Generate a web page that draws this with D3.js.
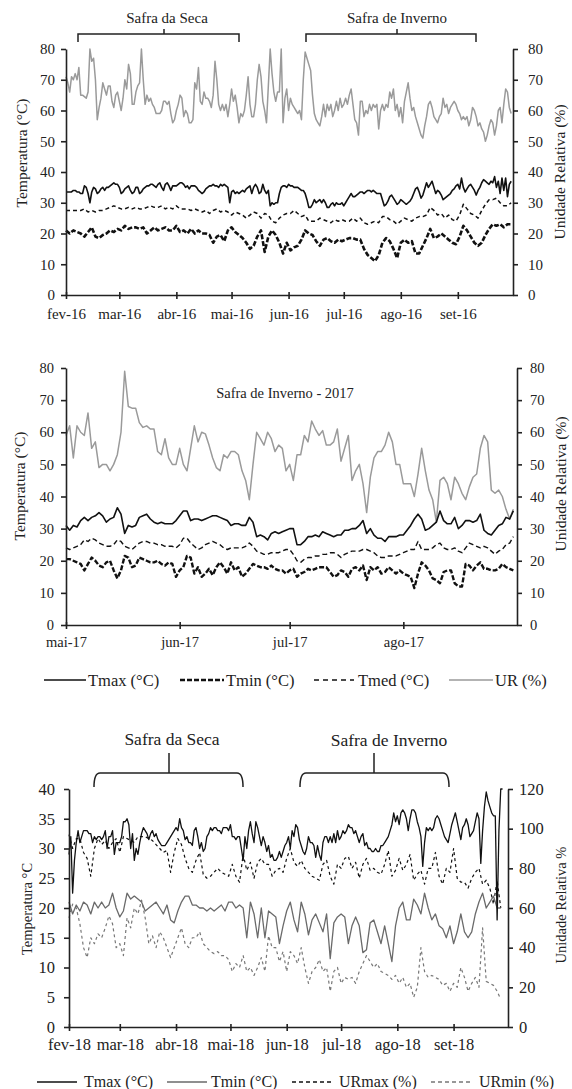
<!DOCTYPE html>
<html><head><meta charset="utf-8">
<script src="https://cdn.jsdelivr.net/npm/d3@7"></script>
<style>body{margin:0;background:#fff;}</style>
</head><body>
<svg id="chart" width="572" height="1089" style="background:#fff"></svg>
<script>
const FONT = "'Liberation Serif', monospace";
const INK = "#222";

// ================= 2016 panel (daily from 1 Feb 2016) =================
const months16 = ["fev-16","mar-16","abr-16","mai-16","jun-16","jul-16","ago-16","set-16"];
const tempTicks16 = [0,10,20,30,40,50,60,70,80];
const urTicks16 = [0,10,20,30,40,50,60,70,80];
const tmax16 = [33.5,33.5,33.5,33.5,34,34,33.5,33.5,33,33,
35.5,35,33,30,33.5,35,34.5,33,33.5,34.5,
35,34,35,35,35.5,36,36.5,36,36,35,
33,33.5,34.5,35,35.5,34,33,33.5,35,35,
33,33.5,34.5,35,35.5,35.5,36,36,35.5,35,
36,36.5,35,34,36,36.5,35.5,34,35.5,35.5,
35.5,36,36.5,36.5,36,35,35.5,34.5,35.5,35.5,
35.5,35,34,33.5,33,33.5,34.5,35,35.5,35.5,
36,35.5,35.5,35,36,35.5,36,35.5,35,30,
33.5,34,33,33.5,33,33.5,34,33.5,34.5,35,
35.5,33,35,36,35,33,33.5,36,34,33,
34,29,30,29.5,30,30,33,35,35.5,35.5,
35,36,35.5,35.5,35,35,35,34.5,34,34,
33,31,28.5,28.5,29.5,31,30,30.5,31,30,
31,30,28.5,28.5,29.5,30,29,30,29.5,29.5,
30,29,30,31,32,33,32,32,32.5,33,
33.5,33.5,33,33.5,34,34,33.5,34,33.5,33,
33,33,31,29,29.5,30.5,32,32.5,31.5,30.5,
29.5,30,31,30.5,30,29.5,30,30.5,31.5,33,
34.5,35,33.5,31.5,32.5,34.5,36.5,35,36,37,
35,33,34,33.5,32.5,31,31.5,32,32.5,33,
34,34.5,35.5,36,34.5,38,35,33.5,34.5,35.5,
36,35,34,32.5,34,35,36.5,37.5,37,36.5,
36,37,36.5,38.5,35,37,33,38,34,38,
32,36,37];
// every 2 days
const tmin16 = [21,20,21,20.5,20,19,20.5,22,19,18.5,
19.5,20,21,20.5,21.5,21,22.5,21.5,22,22,
21.5,22,20,21,22,21,21.5,22,21,21,
22.5,20.5,21,20,21.5,20,21,20,20,19.5,
17,19,19.5,17.5,21,22,20.5,19.5,18.5,17,
15,16,19,21,14,19,21,19.5,17,13.5,
17,14.5,15.5,16,18,21,20,19.5,17.5,16,
18,18.5,17.5,17,18,17.5,18,18.5,18.5,18,
18,15,13,12,11,13,17,18.5,17.5,15,
12,17,18,17,17.5,13.5,13.5,16,18.5,21.5,
18.5,19,20,19,18,17,16.5,19,22.5,21,
19,17,16,17,19.5,21.5,23,22.5,23,22,
23,23];
// every 2 days
const tmed16 = [27.5,27.5,27.5,27.5,27.5,28,27,27.5,27,27.5,
27.5,28,28.5,29,28.5,28,28,28.5,28,28.5,
28,28,28.5,29,28.5,28.5,29,28,28.5,28,
29,28,28,28,27.5,28,27.5,27,27.5,26.5,
27.5,28,27,27.5,27,26,27,26.5,26,25,
26,27,26.5,25,26.5,26,24,23.5,25,26,
26.5,26.5,27.5,26.5,25.5,26,24,24,24,25,
24.5,24,23.5,24.5,24,24.5,24,24,25,24,
25,23.5,23,23.5,24,23.5,25.5,25.5,24.5,24,
23,24,25,24.5,24,25,25.5,25.5,26,28.5,
27.5,26,26.5,25,26,24.5,24,26,29.5,28,
26.5,26,25,27.5,29.5,31,31,31.5,30,29,
29,30];
const ur16 = [71,69,66,71,70,72,70,74,65,65,
64.5,64,66,80,76,77,70,57,61,64,
69,67,65,68,68,63,61,65,66,63,
60,64,70,67,75,72,62,62,66,68,
69,80,70,62,65,63,64,62,61,59,
59,59,60,63,63,62,63,59,56,57,
60,62,65,64,58,60,59,56,56,57,
69,67,74,63,62,66,64,64,63,61,
65,76,70,62,60,62,60,62,58,62,
67,63,65,61,56,59,58,60,65,71,
62,58,58,62,70,75,71,63,60,56,
68,80,72,66,63,66,66,80,56,64,
67,60,64,62,61,60,59,60,57,70,
79,77,75,73,65,59,57,56,55,58,
62,58,62,60,62,58,60,63,60,64,
61,62,64,62,65,67,62,57,56,52,
63,63,58,60,59,62,60,62,61,62,
54,60,62,60,62,61,66,64,67,60,
62,58,61,56,63,66,69,64,60,61,
58,56,54,52,51,55,58,62,63,61,
58,57,56,58,59,64,61,62,59,61,
62,63,62,60,59,57,58,57,58,55,
57,61,60,58,55,56,54,53,50,52,
55,57,56,52,55,60,61,56,62,67,
66,61,59];

// ================= 2017 panel (daily from 1 May 2017) =================
const months17 = ["mai-17","jun-17","jul-17","ago-17"];
const tempTicks17 = [0,10,20,30,40,50,60,70,80];
const urTicks17 = [0,10,20,30,40,50,60,70,80];
const tmax17 = [31,29.5,31,30.5,32.5,33.5,32.5,33.5,34,35,
34,32,33,33.5,36.5,34.5,28.5,31,30.5,31,
33.5,34,34.5,33,32,31.5,32,31.5,31.5,31.5,
32.5,34,35.5,35.5,32.5,33,33,32.5,33,33.5,
34,34,33.5,33,32.5,31,31.5,31.5,31,31,
33.5,32,27.5,28,27.5,26.5,28.5,29,28.5,29,
29.5,30,30,25,25,26,27.5,27.5,28,27.5,
29,28.5,28,27.5,28,28,29.5,29.5,30,30,
31,32.5,28.5,30,28,27,27,26,27.5,27.5,
27.5,28,28,29.5,31,33,34.5,33,29.5,30,
31,32,35.5,32.5,31.5,31.5,33.5,30,31,32.5,
32.5,32,32.5,34.5,29.5,28.5,28,29.5,31,31.5,
33.5,33,35.5];
const tmin17 = [20.5,20.5,20,19.5,19,17,19,21,20,18.5,
18,19.5,20,17,14.5,17,21.5,21,18,18.5,
21,20.5,20,19.5,19.5,20,19,18.5,19.5,19,
15,17,18,21.5,21,16,18,15,16,17.5,
15.5,18,19.5,18,16,19.5,17,18,15,16,
17.5,19,18.5,18,18,17.5,18.5,17.5,17,17,
16,17,17.5,15,16,16.5,17.5,17,17.5,18,
18,18,16.5,15,15.5,17,16.5,15,17.5,18,
17,18.5,14,18,17,18,16,16.5,18,17,
16,17,16,15.5,15,11.5,16,19.5,18.5,17,
14.5,14,13,16.5,17,17,13,12,12,19,
18.5,17,18.5,19.5,17.5,17.5,17,17,17.5,19,
18,17.5,17];
const tmed17 = [24,23.5,24,24.5,25,26.5,26,27,26.5,25.5,
25,24.5,24.5,25,26.5,26,24.5,24,23.5,24.5,
25.5,26,26,25.5,25.5,25,25,24.5,24.5,24.5,
24,25,27,27,25.5,24.5,23.5,24,25,25.5,
26,25.5,25,24,23.5,24,24,24,24,24.5,
25.5,24.5,23,22.5,22,22,22.5,22.5,22.5,23,
23.5,23.5,22,20,19.5,20.5,21,21,21.5,21.5,
22,22,22.5,22.5,22,21,22,22.5,23,23,
23,23.5,23.5,23,22.5,21.5,21,21,21.5,21.5,
21.5,22,22.5,23,23.5,23.5,26,23.5,23.5,23.5,
24,25,25.5,24,23.5,23.5,24,23,22.5,24,
25.5,25,24.5,24,24.5,24,23,22,23,23.5,
25,25.5,27.5];
const ur17 = [59,62,52,62,60,59,66,55,57,49,
50,50,48,50,53,60,79,68,67.5,67.5,
63,61.5,62,61,61,54,53,58,52,50,
50,55,50,48,55,62,57,60,59.5,56,
52,49,48,53,52,54,54,53,48,45,
39,50,60,58,56,60,58,54,56,55,
48,50,45,53,53,59,57,63.5,61,59,
60.5,56,56,57,61,51,55,59,45,48,
50,44,35,46,52,54,54,56,60,57,
50,50,44,44,44,40,47,55,48,42,
39,32,45,46,44,39,46,44,41,39,
43,46,47,55,59,57,42,41,42,40,
36,33,36];

// ================= 2018 panel (from 1 Feb 2018) =================
const months18 = ["fev-18","mar-18","abr-18","mai-18","jun-18","jul-18","ago-18","set-18"];
const tempTicks18 = [0,5,10,15,20,25,30,35,40];
const urTicks18 = [0,20,40,60,80,100,120];
// daily
const tmax18 = [29,32,22.5,28,31,33,31,32,33,33,
33,32.5,32.5,31,32,31.5,32,32,31.5,32,
33,30,32,32,33,29,31,31,31,32,
34.5,34.5,35,34,30,32.5,28,30,29,31,
32.5,33.5,33,32.5,31.5,32.5,33,32,32.5,31.5,
31,30.5,30.5,30.5,31,31.5,32,32.5,33,33.5,
33,35,33.5,33,31.5,32,31,31,30.5,33,
33.5,32,30,31,29.5,30,32,32.5,33.5,33,
33.5,33.5,33,33,32.5,33.5,33.5,33.5,33,34,
32,32,31.5,32,32,30,28,32,30,33,
34.5,32.5,31,34.5,33.5,32,30.5,32,31,29.5,
30.5,28.5,29,28,28,28.5,29.5,28.5,29.5,30.5,
31,32,30,33,32,34,33.5,31.5,30.5,29.5,
29,30,32,31,31,30.5,28.5,30.5,29,28,
31,32,32,31,32,31,32.5,31,33,31.5,
32,33,32.5,33,34,33.5,33.5,32.5,33,32,
31,32,32.5,30.5,31,30,30,29.5,29.5,30,
29.5,29.5,30.5,30.5,31,31.5,32,33,34,36,
34.5,35.5,34,36,36.5,36,35,33,35,36.5,
36.5,36,34.5,33.5,32,27,31,33.5,33,33.5,
33,33.5,35,35.5,35,34,33,32,31.5,31,
32.5,34,35,36,34.5,33,31.5,33.5,34,35,
34,32,32.5,33,34.5,36,35,27.5,33,37,
39.5,38,37,36,35.5,35.5,18,33,40,40];
// every 2 days
const tmin18 = [21,19,20.5,19.5,21,20.5,19,21,20,21,
20,20.5,22.5,20,18.5,19.5,22.5,21.5,22,21.5,
21,19.5,20,20.5,21,20,19,20.5,18,17.5,
19.5,21,22,22,20.5,20.5,20,20,19.5,20,
19.5,20,20.5,19.5,21,21,20,20.5,20,15,
21,19,15,20,15,19.5,19,18.5,14,17,
19.5,21,18,16,21,19,15.5,18,19,17.5,
16,19,11.5,17.5,18.5,19,18.5,14,17,18.5,
17,12.5,13,17.5,18,16,14,17,14,11,
17,20,21,18,18,21.5,20.5,19,22.5,20,
18,19,17,16.5,15,17,14,16,19,16,
15,16,19,21,22.5,20,21,22,20,20];
const urmax18 = [97,90,95,95,88,85,76,90,95,92,
94,90,93,95,88,96,95,94,93,96,
96,96,95,94,92,90,88,89,78,88,
95,92,85,80,78,84,88,77,75,76,
78,80,78,77,76,82,76,73,87,79,
83,75,83,85,82,82,76,79,80,78,
85,90,83,81,84,80,78,76,75,74,
82,84,76,72,82,80,85,86,80,83,
75,82,85,79,80,78,77,82,89,76,
79,85,79,82,87,74,77,79,72,80,
80,88,76,72,80,78,90,75,73,73,
70,75,78,80,72,74,70,62,74,60];
const urmin18 = [55,62,60,52,40,35,45,42,47,45,
50,56,52,40,42,36,55,50,60,57,
64,55,42,46,40,48,45,40,35,40,
45,50,42,40,45,45,48,42,40,38,
37,38,36,36,34,28,32,30,36,28,
30,26,30,35,28,46,40,40,33,38,
28,38,36,32,40,30,22,28,30,34,
28,30,18,28,30,22,25,24,25,22,
28,32,36,33,30,32,28,27,26,24,
26,22,25,20,22,15,20,40,28,25,
26,25,24,21,22,18,22,20,30,25,
18,22,25,20,50,23,22,21,18,14];

// ================= drawing =================
const svg = d3.select("#chart");

function setFont(sel, fs) {
  sel.style("font-family", FONT).style("font-size", fs + "px");
}

function styleAxis(sel, fs) {
  sel.attr("font-family", null).attr("font-size", null);
  sel.selectAll("path,line").attr("stroke", INK).attr("stroke-width", 1.6);
  sel.selectAll("text").attr("fill", INK).call(setFont, fs);
}

function drawPanel(p) {
  const g = svg.append("g");
  const x = d3.scaleTime().domain([p.start, p.end]).range([p.left, p.right]);
  const yL = d3.scaleLinear().domain([0, p.lMax]).range([p.bottom, p.top]);
  const yR = d3.scaleLinear().domain([0, p.rMax]).range([p.bottom, p.top]);

  for (const s of p.series) {
    const sc = s.right ? yR : yL;
    const pts = s.values.map((v, i) => ({ t: d3.timeDay.offset(p.start, i * s.step), v }));
    g.append("path").datum(pts)
      .attr("fill", "none")
      .attr("stroke", s.color)
      .attr("stroke-width", s.width)
      .attr("stroke-dasharray", s.dash || null)
      .attr("stroke-linejoin", "round")
      .attr("d", d3.line().x(d => x(d.t)).y(d => sc(d.v)));
  }

  g.append("g").attr("transform", `translate(${p.left},0)`)
    .call(d3.axisLeft(yL).tickValues(p.lTicks).tickSize(5).tickSizeOuter(0)
      .tickPadding(p.lPad).tickFormat(d3.format("d")))
    .call(s => styleAxis(s, p.fs));

  g.append("g").attr("transform", `translate(${p.right},0)`)
    .call(d3.axisRight(yR).tickValues(p.rTicks).tickSize(5).tickSizeOuter(0)
      .tickPadding(p.rPad).tickFormat(d3.format("d")))
    .call(s => styleAxis(s, p.fs));

  const monthStarts = d3.timeMonth.range(p.start, p.end);
  g.append("g").attr("transform", `translate(0,${p.bottom})`)
    .call(d3.axisBottom(x).tickValues(monthStarts).tickSizeOuter(0)
      .tickFormat((d, i) => p.months[i]))
    .call(s => styleAxis(s, p.fs))
    .call(a => {
      a.selectAll(".tick line").attr("y1", -3).attr("y2", 4);
      a.selectAll(".tick text").attr("y", p.xPad).attr("dy", "0.71em");
    });

  g.append("text")
    .attr("transform", `translate(${p.lTitleX},${p.lTitleY}) rotate(-90)`)
    .attr("text-anchor", "middle").attr("dy", "0.35em").attr("fill", INK)
    .call(setFont, p.titleFs)
    .text(p.lTitle);
  g.append("text")
    .attr("transform", `translate(${p.rTitleX},${p.rTitleY}) rotate(-90)`)
    .attr("text-anchor", "middle").attr("dy", "0.35em").attr("fill", INK)
    .call(setFont, p.titleFs)
    .text(p.rTitle);
}

function bracket(x1, x2, xm, yh, yEnd, yTop, r) {
  const pth = d3.path();
  pth.moveTo(x1, yEnd);
  if (r > 0) {
    pth.quadraticCurveTo(x1, yh, x1 + r, yh);
    pth.lineTo(x2 - r, yh);
    pth.quadraticCurveTo(x2, yh, x2, yEnd);
  } else {
    pth.lineTo(x1, yh); pth.lineTo(x2, yh); pth.lineTo(x2, yEnd);
  }
  pth.moveTo(xm, yh); pth.lineTo(xm, yTop);
  svg.append("path").attr("d", pth.toString()).attr("fill", "none")
    .attr("stroke", INK).attr("stroke-width", 1.5);
}

function label(txt, x, y, fs, anchor) {
  svg.append("text").attr("x", x).attr("y", y).attr("text-anchor", anchor || "middle")
    .attr("fill", INK).call(setFont, fs).text(txt);
}

// ---- Panel 1
drawPanel({
  start: new Date(2016, 1, 1), end: new Date(2016, 9, 1),
  left: 66, right: 513, top: 49, bottom: 295,
  lMax: 80, rMax: 80, lTicks: tempTicks16, rTicks: urTicks16,
  months: months16, fs: 15, lPad: 6, rPad: 10, xPad: 13,
  lTitle: "Temperatura (°C)", rTitle: "Unidade Relativa (%)",
  lTitleX: 22, lTitleY: 153, rTitleX: 560, rTitleY: 172, titleFs: 15.5,
  series: [
    { values: ur16, step: 1, right: true, color: "#9a9a9a", width: 1.5 },
    { values: tmed16, step: 2, color: "#111", width: 1.5, dash: "4,3" },
    { values: tmin16, step: 2, color: "#111", width: 2.6, dash: "5,2" },
    { values: tmax16, step: 1, color: "#111", width: 1.6 }
  ]
});
bracket(78, 239, 164, 34, 42, 29, 0);
bracket(306, 476, 397, 34, 42, 29, 0);
label("Safra da Seca", 167, 23, 15);
label("Safra de Inverno", 397, 23, 15);

// ---- Panel 2
drawPanel({
  start: new Date(2017, 4, 1), end: new Date(2017, 8, 1),
  left: 66, right: 517, top: 368, bottom: 625,
  lMax: 80, rMax: 80, lTicks: tempTicks17, rTicks: urTicks17,
  months: months17, fs: 14.5, lPad: 7, rPad: 8, xPad: 11.5,
  lTitle: "Temperatura (°C)", rTitle: "Unidade Relativa (%)",
  lTitleX: 20, lTitleY: 486, rTitleX: 561, rTitleY: 484, titleFs: 15.5,
  series: [
    { values: ur17, step: 1, right: true, color: "#9a9a9a", width: 1.5 },
    { values: tmed17, step: 1, color: "#111", width: 1.4, dash: "5,3" },
    { values: tmin17, step: 1, color: "#111", width: 2.4, dash: "5,2" },
    { values: tmax17, step: 1, color: "#111", width: 1.6 }
  ]
});
label("Safra de Inverno - 2017", 285, 398, 14.5);

// legend 2017
const leg17 = [
  { name: "Tmax (°C)", x1: 44, x2: 86, tx: 88, color: "#111", width: 1.6, dash: null },
  { name: "Tmin (°C)", x1: 180, x2: 224, tx: 226, color: "#111", width: 2.4, dash: "5,2" },
  { name: "Tmed (°C)", x1: 314, x2: 354, tx: 358, color: "#111", width: 1.4, dash: "5,4" },
  { name: "UR (%)", x1: 449, x2: 493, tx: 495, color: "#9a9a9a", width: 1.5, dash: null }
];
leg17.forEach(l => {
  svg.append("line").attr("x1", l.x1).attr("x2", l.x2).attr("y1", 680).attr("y2", 680)
    .attr("stroke", l.color).attr("stroke-width", l.width).attr("stroke-dasharray", l.dash);
  label(l.name, l.tx, 685.5, 16.5, "start");
});

// ---- Panel 3
drawPanel({
  start: new Date(2018, 1, 1), end: new Date(2018, 9, 1),
  left: 69, right: 508, top: 789, bottom: 1027,
  lMax: 40, rMax: 120, lTicks: tempTicks18, rTicks: urTicks18,
  months: months18, fs: 16.5, lPad: 9, rPad: 6, xPad: 11.5,
  lTitle: "Temperatura °C", rTitle: "Unidade Relativa %",
  lTitleX: 27, lTitleY: 909, rTitleX: 561, rTitleY: 905, titleFs: 14.5,
  series: [
    { values: urmin18, step: 2, right: true, color: "#777", width: 1.2, dash: "3,3" },
    { values: urmax18, step: 2, right: true, color: "#111", width: 1.2, dash: "3,3" },
    { values: tmin18, step: 2, color: "#6a6a6a", width: 1.3 },
    { values: tmax18, step: 1, color: "#111", width: 1.3 }
  ]
});
bracket(94, 243, 169, 773, 787, 753, 6);
bracket(300, 449, 374, 773, 787, 753, 6);
label("Safra da Seca", 172, 745, 17.5);
label("Safra de Inverno", 389, 746, 17.5);

const leg18 = [
  { name: "Tmax (°C)", x1: 37, x2: 77, tx: 84, color: "#111", width: 1.3, dash: null },
  { name: "Tmin (°C)", x1: 167, x2: 207, tx: 211, color: "#6a6a6a", width: 1.3, dash: null },
  { name: "URmax (%)", x1: 292, x2: 332, tx: 339, color: "#111", width: 1.3, dash: "4,3" },
  { name: "URmin (%)", x1: 431, x2: 473, tx: 479, color: "#777", width: 1.3, dash: "4,3" }
];
leg18.forEach(l => {
  svg.append("line").attr("x1", l.x1).attr("x2", l.x2).attr("y1", 1082).attr("y2", 1082)
    .attr("stroke", l.color).attr("stroke-width", l.width).attr("stroke-dasharray", l.dash);
  label(l.name, l.tx, 1087, 16, "start");
});
</script>
</body></html>
